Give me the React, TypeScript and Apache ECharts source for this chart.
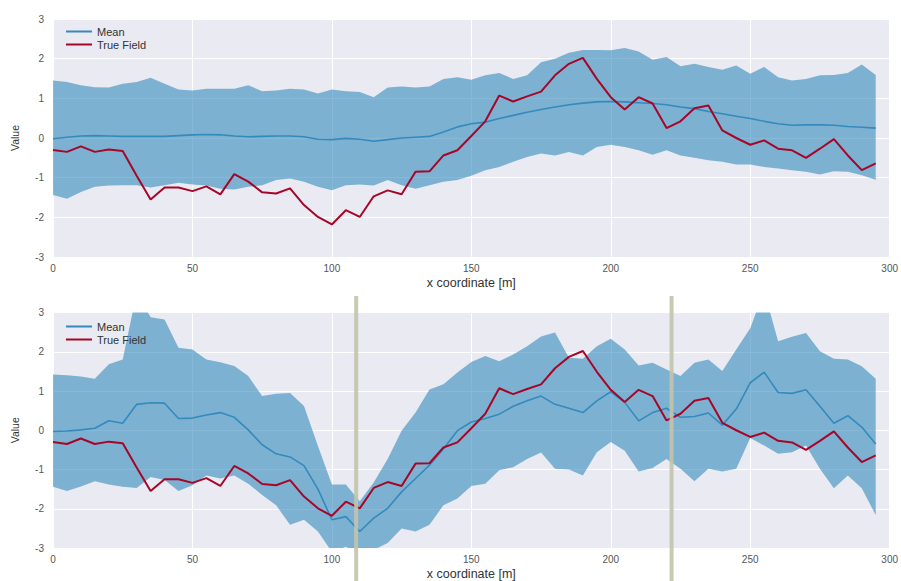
import React, { useEffect, useRef } from "react";
import * as echarts from "echarts";

const xs = [0,5,10,15,20,25,30,35,40,45,50,55,60,65,70,75,80,85,90,95,100,105,110,115,120,125,130,135,140,145,150,155,160,165,170,175,180,185,190,195,200,205,210,215,220,225,230,235,240,245,250,255,260,265,270,275,280,285,290,295];

const trueField = [-0.30,-0.35,-0.21,-0.35,-0.29,-0.33,-0.95,-1.55,-1.25,-1.25,-1.34,-1.22,-1.42,-0.91,-1.10,-1.37,-1.40,-1.27,-1.69,-1.99,-2.18,-1.82,-1.99,-1.47,-1.32,-1.42,-0.85,-0.84,-0.44,-0.31,0.05,0.42,1.07,0.92,1.05,1.17,1.58,1.87,2.02,1.49,1.03,0.72,1.03,0.87,0.25,0.42,0.75,0.82,0.19,0.00,-0.17,-0.06,-0.27,-0.31,-0.50,-0.27,-0.03,-0.44,-0.81,-0.64];

const meanTop = [-0.02,0.02,0.05,0.06,0.05,0.04,0.04,0.04,0.04,0.06,0.08,0.09,0.08,0.05,0.03,0.04,0.05,0.05,0.03,-0.03,-0.04,-0.01,-0.03,-0.08,-0.04,0.00,0.02,0.04,0.15,0.28,0.36,0.40,0.49,0.57,0.65,0.72,0.78,0.84,0.88,0.91,0.92,0.91,0.89,0.87,0.84,0.78,0.74,0.67,0.61,0.55,0.49,0.42,0.36,0.32,0.33,0.33,0.32,0.29,0.27,0.25];
const upperTop = [1.45,1.41,1.33,1.28,1.27,1.37,1.41,1.52,1.37,1.22,1.20,1.24,1.24,1.24,1.33,1.18,1.20,1.24,1.22,1.12,1.22,1.18,1.16,1.03,1.27,1.30,1.27,1.30,1.49,1.53,1.47,1.58,1.64,1.49,1.58,1.91,2.00,2.15,2.22,2.22,2.21,2.27,2.18,1.97,2.04,1.81,1.87,1.79,1.72,1.83,1.62,1.79,1.53,1.45,1.49,1.58,1.59,1.64,1.85,1.59];
const lowerTop = [-1.44,-1.53,-1.36,-1.23,-1.20,-1.19,-1.19,-1.25,-1.19,-1.13,-1.17,-1.20,-1.28,-1.30,-1.23,-1.19,-1.06,-1.02,-1.10,-1.23,-1.32,-1.19,-1.17,-1.20,-1.06,-1.19,-1.28,-1.19,-1.10,-1.06,-0.95,-0.81,-0.73,-0.60,-0.48,-0.39,-0.44,-0.35,-0.44,-0.23,-0.17,-0.23,-0.31,-0.42,-0.31,-0.44,-0.50,-0.56,-0.60,-0.67,-0.67,-0.73,-0.77,-0.81,-0.85,-0.92,-0.84,-0.85,-0.94,-1.05];

const meanBottom = [-0.03,-0.02,0.01,0.05,0.24,0.18,0.66,0.70,0.69,0.30,0.31,0.39,0.45,0.33,0.01,-0.37,-0.60,-0.68,-0.90,-1.50,-2.28,-2.20,-2.58,-2.24,-1.99,-1.57,-1.23,-0.89,-0.47,-0.01,0.21,0.30,0.41,0.61,0.75,0.87,0.66,0.56,0.45,0.75,0.98,0.71,0.24,0.45,0.56,0.33,0.35,0.44,0.13,0.54,1.21,1.48,0.96,0.94,1.03,0.61,0.18,0.37,0.08,-0.35];
const upperBottom = [1.42,1.40,1.37,1.31,1.68,1.80,3.50,2.88,2.82,2.10,2.06,1.80,1.73,1.64,1.38,0.87,0.93,0.95,0.62,-0.40,-1.38,-1.38,-1.81,-1.33,-0.73,-0.01,0.45,1.04,1.17,1.47,1.74,1.89,1.76,1.93,2.14,2.39,2.49,1.85,1.82,2.14,2.33,2.06,1.65,1.72,1.55,1.38,1.72,1.80,1.51,2.06,2.60,3.55,2.27,2.38,2.48,2.01,1.82,1.80,1.63,1.31];
const lowerBottom = [-1.44,-1.55,-1.43,-1.30,-1.38,-1.44,-1.47,-1.19,-1.27,-1.55,-1.40,-1.15,-1.23,-1.15,-1.36,-1.65,-1.91,-2.41,-2.28,-2.58,-3.10,-2.97,-3.15,-3.05,-2.87,-2.50,-2.58,-2.41,-1.91,-1.74,-1.42,-1.36,-1.02,-0.94,-0.73,-0.57,-0.98,-1.00,-1.15,-0.56,-0.30,-0.52,-1.05,-0.96,-0.73,-0.98,-1.30,-0.98,-1.05,-0.98,-0.20,-0.39,-0.60,-0.56,-0.39,-0.98,-1.48,-1.15,-1.48,-2.16];

const observationX = [108.7, 221.8];

const xTicks = [0, 50, 100, 150, 200, 250, 300];
const yTicks = [-3, -2, -1, 0, 1, 2, 3];

const MEAN_COLOR = "#348ABD";
const TRUE_COLOR = "#A60628";
const FONT = "Liberation Sans, Arial, sans-serif";

const pairs = (vals: number[]) => vals.map((v, i) => [xs[i], v]);

function bandSeries(idx: number, upper: number[], lower: number[]) {
  return {
    type: "custom",
    xAxisIndex: idx,
    yAxisIndex: idx,
    clip: true,
    silent: true,
    z: 1,
    data: xs.map((x, i) => [x, lower[i], upper[i]]),
    encode: { x: 0, y: [1, 2] },
    renderItem: (params: any, api: any) => {
      if (params.dataIndex !== 0) return null;
      const pts: number[][] = [];
      for (let i = 0; i < xs.length; i++) pts.push(api.coord([xs[i], upper[i]]));
      for (let i = xs.length - 1; i >= 0; i--) pts.push(api.coord([xs[i], lower[i]]));
      const cs = params.coordSys;
      return {
        type: "polygon",
        shape: { points: pts },
        style: { fill: MEAN_COLOR, opacity: 0.6 },
        clipPath: {
          type: "rect",
          shape: { x: cs.x, y: cs.y, width: cs.width, height: cs.height },
        },
      };
    },
  };
}

function panelSeries(idx: number, mean: number[], upper: number[], lower: number[]) {
  return [
    bandSeries(idx, upper, lower),
    {
      name: "Mean",
      type: "line",
      xAxisIndex: idx,
      yAxisIndex: idx,
      data: pairs(mean),
      symbol: "none",
      lineStyle: { color: MEAN_COLOR, width: 1.6 },
      itemStyle: { color: MEAN_COLOR },
      z: 3,
    },
    {
      name: "True Field",
      type: "line",
      xAxisIndex: idx,
      yAxisIndex: idx,
      data: pairs(trueField),
      symbol: "none",
      lineStyle: { color: TRUE_COLOR, width: 2 },
      itemStyle: { color: TRUE_COLOR },
      z: 4,
    },
  ];
}

function xAxisFor(idx: number) {
  return {
    type: "value",
    gridIndex: idx,
    min: xTicks[0],
    max: xTicks[xTicks.length - 1],
    interval: 50,
    axisLine: { show: false },
    axisTick: { show: false },
    splitLine: { show: true, lineStyle: { color: "#ffffff", width: 1 } },
    axisLabel: { color: "#555555", fontSize: 10, margin: 6, fontFamily: FONT },
    name: "x coordinate [m]",
    nameLocation: "middle",
    nameGap: 19,
    nameTextStyle: { color: "#333333", fontSize: 12.5, fontFamily: FONT },
  };
}

function yAxisFor(idx: number) {
  return {
    type: "value",
    gridIndex: idx,
    min: yTicks[0],
    max: yTicks[yTicks.length - 1],
    interval: 1,
    axisLine: { show: false },
    axisTick: { show: false },
    splitLine: { show: true, lineStyle: { color: "#ffffff", width: 1 } },
    axisLabel: { color: "#555555", fontSize: 10, margin: 9, fontFamily: FONT },
    name: "Value",
    nameLocation: "middle",
    nameGap: 33,
    nameRotate: 90,
    nameTextStyle: { color: "#333333", fontSize: 10.5, fontFamily: FONT },
  };
}

function legendFor(top: number) {
  return {
    orient: "vertical",
    left: 61,
    top,
    itemWidth: 26,
    itemHeight: 2,
    itemGap: 2,
    icon: "rect",
    data: ["Mean", "True Field"],
    textStyle: { color: "#333333", fontSize: 11, fontFamily: FONT },
  };
}

export default function App() {
  const ref = useRef<HTMLDivElement>(null);
  useEffect(() => {
    document.body.style.margin = "0";
    if (!ref.current) return;
    const chart = echarts.init(ref.current, null, { renderer: "svg" });
    chart.setOption({
      animation: false,
      backgroundColor: "#ffffff",
      grid: [
        { left: 53, right: 7, top: 19, height: 238, show: true, backgroundColor: "#EAEAF2", borderWidth: 0 },
        { left: 53, right: 7, top: 312.5, height: 237.5, show: true, backgroundColor: "#EAEAF2", borderWidth: 0 },
      ],
      xAxis: [xAxisFor(0), xAxisFor(1)],
      yAxis: [yAxisFor(0), yAxisFor(1)],
      legend: [legendFor(21), legendFor(316)],
      series: [
        ...panelSeries(0, meanTop, upperTop, lowerTop),
        ...panelSeries(1, meanBottom, upperBottom, lowerBottom),
      ],
    });
    const lines = observationX.map((v) => {
      const px = chart.convertToPixel({ xAxisIndex: 1 } as any, v) as number;
      return {
        type: "line",
        shape: { x1: px, y1: 296, x2: px, y2: 581 },
        style: { stroke: "#c3c4ab", lineWidth: 4, opacity: 0.9 },
        z: 100,
        silent: true,
      };
    });
    chart.setOption({ graphic: lines });
    return () => chart.dispose();
  }, []);
  return <div ref={ref} style={{ width: 901, height: 581 }} />;
}
